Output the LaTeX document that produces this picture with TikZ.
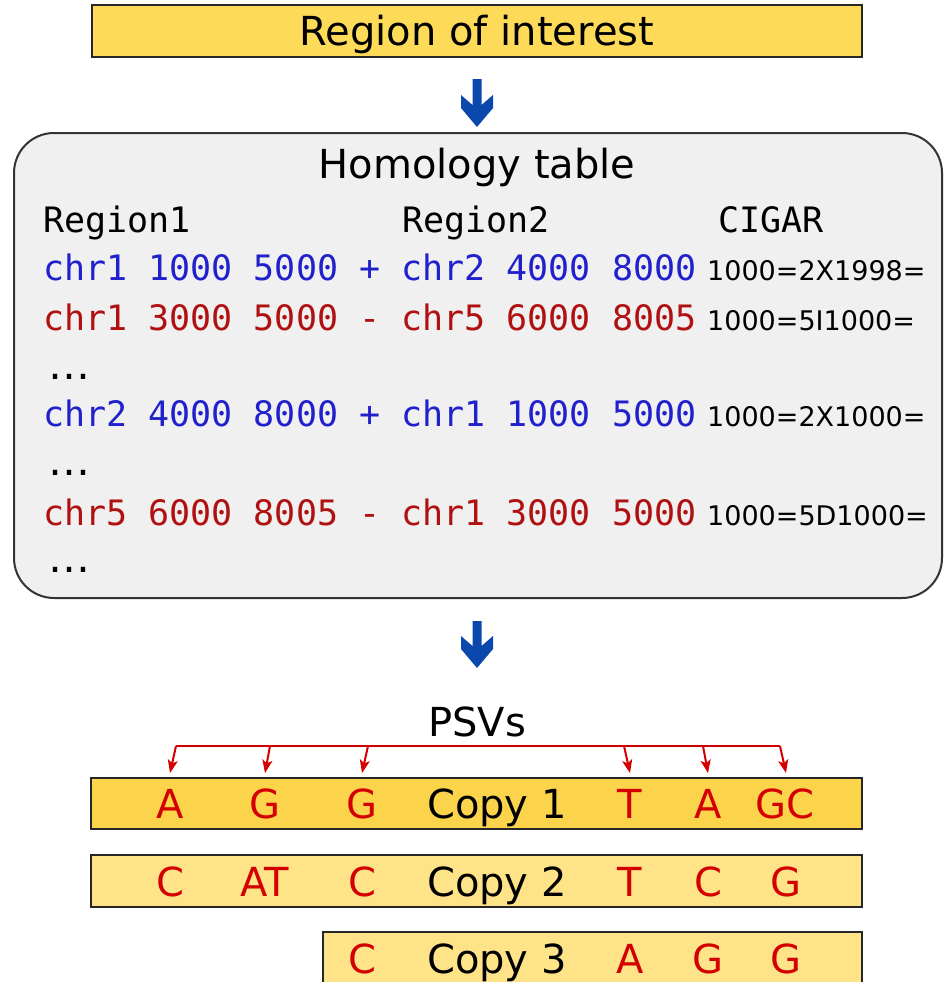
\documentclass[tikz,border=0pt]{standalone}
\usepackage{fontspec}
\setmainfont{DejaVu Sans}
\setmonofont{DejaVu Sans Mono}
\usetikzlibrary{arrows.meta,calc}

\definecolor{goldA}{HTML}{FDDA58}
\definecolor{goldB}{HTML}{FCD44B}
\definecolor{goldC}{HTML}{FEE388}
\definecolor{tablebg}{HTML}{F0F0F0}
\definecolor{rowblue}{HTML}{2020CC}
\definecolor{rowred}{HTML}{B01010}
\definecolor{psvred}{HTML}{D40000}
\definecolor{flowblue}{HTML}{0B48AE}

\tikzset{
  bigfont/.style={font=\fontsize{40}{48}\selectfont},
  monorow/.style={font=\ttfamily\fontsize{35}{42}\selectfont, anchor=base west, inner sep=0pt},
  cigarcell/.style={font=\fontsize{27}{32}\selectfont, anchor=base west, inner sep=0pt},
  dotsrow/.style={font=\fontsize{42}{48}\selectfont, anchor=base west, inner sep=0pt},
  seqbox/.style={draw=black!85, line width=2pt},
  psv/.style={bigfont, text=psvred, anchor=base, inner sep=0pt},
  copylabel/.style={bigfont, anchor=base, inner sep=0pt},
  psvarrow/.style={draw=psvred, line width=2pt, -{Stealth[length=13pt,width=10pt,inset=3pt]}},
  flowarrow/.style={fill=flowblue, draw=none}
}

\begin{document}
\begin{tikzpicture}[x=1pt,y=-1pt]
\useasboundingbox (0,0) rectangle (945,982);
\clip (0,0) rectangle (945,982);

% Region of interest
\draw[seqbox, fill=goldA] (92,5) rectangle (862,57);
\node[bigfont, anchor=base, inner sep=0pt] (roi) at (477,46) {Region of interest};

% first flow arrow
\coordinate (a1top) at (477,79);
\coordinate (a1tip) at (477,127);
\fill[flowblue] ($(a1top)+(-4.5,0)$) -- ($(a1top)+(4.5,0)$) -- ($(a1tip)+(4.5,-22)$)
  -- ($(a1tip)+(16,-32)$) -- ($(a1tip)+(16,-19)$) -- (a1tip) -- ($(a1tip)+(-16,-19)$)
  -- ($(a1tip)+(-16,-32)$) -- ($(a1tip)+(-4.5,-22)$) -- cycle;

% Homology table
\draw[draw=black!80, line width=2pt, fill=tablebg, rounded corners=40pt] (14,133) rectangle (942,598);
\node[bigfont, anchor=base, inner sep=0pt] (htitle) at (477,178) {Homology table};

\node[monorow] (h1) at (43,232) {Region1};
\node[monorow] (h2) at (402,232) {Region2};
\node[monorow] (h3) at (718,232) {CIGAR};

\node[monorow, text=rowblue] (r1) at (43,280) {chr1 1000 5000 + chr2 4000 8000};
\node[cigarcell] (c1) at (707,280) {1000=2X1998=};
\node[monorow, text=rowred] (r2) at (43,330) {chr1 3000 5000 - chr5 6000 8005};
\node[cigarcell] (c2) at (707,330) {1000=5I1000=};
\node[dotsrow] (d1) at (48,379) {…};
\node[monorow, text=rowblue] (r3) at (43,426) {chr2 4000 8000 + chr1 1000 5000};
\node[cigarcell] (c3) at (707,426) {1000=2X1000=};
\node[dotsrow] (d2) at (48,475) {…};
\node[monorow, text=rowred] (r4) at (43,525) {chr5 6000 8005 - chr1 3000 5000};
\node[cigarcell] (c4) at (707,525) {1000=5D1000=};
\node[dotsrow] (d3) at (48,572) {…};

% second flow arrow
\coordinate (a2top) at (477,621);
\coordinate (a2tip) at (477,668);
\fill[flowblue] ($(a2top)+(-4.5,0)$) -- ($(a2top)+(4.5,0)$) -- ($(a2tip)+(4.5,-22)$)
  -- ($(a2tip)+(16,-32)$) -- ($(a2tip)+(16,-19)$) -- (a2tip) -- ($(a2tip)+(-16,-19)$)
  -- ($(a2tip)+(-16,-32)$) -- ($(a2tip)+(-4.5,-22)$) -- cycle;

% PSV bracket
\node[copylabel] (psvs) at (477,736) {PSVs};
\coordinate (b1) at (176,746);
\coordinate (b2) at (270,746);
\coordinate (b3) at (368,746);
\coordinate (b4) at (624,746);
\coordinate (b5) at (703,746);
\coordinate (b6) at (780,746);
\draw[draw=psvred, line width=2pt] (b1) -- (b6);
\coordinate (t1) at (170,773);
\coordinate (t2) at (265,773);
\coordinate (t3) at (362,773);
\coordinate (t4) at (630,773);
\coordinate (t5) at (708,773);
\coordinate (t6) at (786,773);
\foreach \i in {1,...,6} { \draw[psvarrow] (b\i) -- (t\i); }

% Copy 1
\draw[seqbox, fill=goldB] (91,778) rectangle (862,829);
\node[psv] (p11) at (170,818) {A};
\node[psv] (p12) at (265,818) {G};
\node[psv] (p13) at (362,818) {G};
\node[copylabel] (copy1) at (497,818) {Copy 1};
\node[psv] (p14) at (630,818) {T};
\node[psv] (p15) at (708,818) {A};
\node[psv] (p16) at (785,818) {GC};

% Copy 2
\draw[seqbox, fill=goldC] (91,855) rectangle (862,907);
\node[psv] (p21) at (170,896) {C};
\node[psv] (p22) at (265,896) {AT};
\node[psv] (p23) at (362,896) {C};
\node[copylabel] (copy2) at (497,896) {Copy 2};
\node[psv] (p24) at (630,896) {T};
\node[psv] (p25) at (708,896) {C};
\node[psv] (p26) at (786,896) {G};

% Copy 3
\draw[seqbox, fill=goldC] (323,932) rectangle (862,995);
\node[psv] (p33) at (362,973) {C};
\node[copylabel] (copy3) at (497,973) {Copy 3};
\node[psv] (p34) at (630,973) {A};
\node[psv] (p35) at (708,973) {G};
\node[psv] (p36) at (786,973) {G};
\end{tikzpicture}
\end{document}
